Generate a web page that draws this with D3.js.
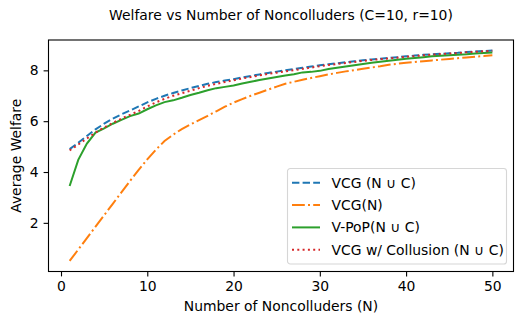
<!DOCTYPE html>
<html>
<head>
<meta charset="utf-8">
<script src="https://cdn.jsdelivr.net/npm/d3@7"></script>
<style>
  body { margin: 0; background: #fff; }
  svg text { font-family: "DejaVu Sans", sans-serif; fill: #000; }
</style>
</head>
<body>
<svg id="chart"></svg>
<script>
var width = 523;
var height = 324;

// data, N = 1..50
var nValues = d3.range(1, 51);
var vcgAll = [4.90, 5.15, 5.42, 5.68, 5.90, 6.10, 6.27, 6.42, 6.58, 6.74,
              6.88, 7.00, 7.11, 7.21, 7.30, 7.39, 7.47, 7.54, 7.60, 7.65,
              7.72, 7.78, 7.84, 7.90, 7.95, 8.00, 8.05, 8.10, 8.15, 8.20,
              8.24, 8.28, 8.32, 8.36, 8.40, 8.43, 8.46, 8.49, 8.52, 8.55,
              8.58, 8.61, 8.63, 8.65, 8.67, 8.69, 8.72, 8.74, 8.76, 8.78];
var vcgN = [0.50, 0.95, 1.40, 1.85, 2.30, 2.75, 3.20, 3.65, 4.08, 4.50,
            4.88, 5.22, 5.47, 5.69, 5.87, 6.04, 6.21, 6.39, 6.57, 6.73,
            6.87, 7.00, 7.12, 7.24, 7.36, 7.47, 7.55, 7.63, 7.70, 7.77,
            7.84, 7.90, 7.96, 8.01, 8.06, 8.11, 8.16, 8.22, 8.26, 8.30,
            8.33, 8.36, 8.39, 8.42, 8.45, 8.48, 8.51, 8.54, 8.56, 8.59];
var vpop = [3.45, 4.48, 5.12, 5.55, 5.72, 5.90, 6.05, 6.20, 6.30, 6.47,
            6.62, 6.75, 6.82, 6.92, 7.03, 7.12, 7.22, 7.30, 7.35, 7.40,
            7.48, 7.55, 7.62, 7.68, 7.74, 7.80, 7.85, 7.92, 7.94, 7.98,
            8.05, 8.10, 8.15, 8.20, 8.25, 8.30, 8.34, 8.38, 8.42, 8.46,
            8.49, 8.52, 8.55, 8.57, 8.59, 8.61, 8.63, 8.66, 8.68, 8.70];
var vcgCollusion = [4.85, 5.08, 5.32, 5.55, 5.75, 5.93, 6.10, 6.25, 6.40, 6.58,
                    6.74, 6.88, 7.00, 7.10, 7.20, 7.30, 7.39, 7.47, 7.54, 7.61,
                    7.68, 7.74, 7.80, 7.86, 7.91, 7.96, 8.01, 8.06, 8.11, 8.16,
                    8.21, 8.25, 8.29, 8.33, 8.37, 8.41, 8.44, 8.47, 8.50, 8.53,
                    8.56, 8.59, 8.62, 8.64, 8.66, 8.68, 8.71, 8.73, 8.75, 8.77];

var seriesNames = ["VCG (N \u222A C)", "VCG(N)", "V-PoP(N \u222A C)", "VCG w/ Collusion (N \u222A C)"];
var seriesValues = [vcgAll, vcgN, vpop, vcgCollusion];
var seriesColors = ["#1f77b4", "#ff7f0e", "#2ca02c", "#d62728"];
var lw = 2;
var seriesDash = [
  [3.7 * lw, 1.6 * lw].join(","),
  [6.4 * lw, 1.6 * lw, 1 * lw, 1.6 * lw].join(","),
  null,
  [1 * lw, 1.65 * lw].join(",")
];
var xTicks = [0, 10, 20, 30, 40, 50];
var yTicks = [2, 4, 6, 8];

var fontSize = 13.9;
var margin = { left: 48.5, right: 9.5, top: 40, bottom: 52.5 };

var svg = d3.select("#chart")
  .attr("width", width)
  .attr("height", height);

// matplotlib-like 5% margins
var xMin = 1, xMax = 50;
var allVals = d3.merge(seriesValues);
var yMin = d3.min(allVals), yMax = d3.max(allVals);
var xPad = (xMax - xMin) * 0.05, yPad = (yMax - yMin) * 0.05;

var x = d3.scaleLinear()
  .domain([xMin - xPad, xMax + xPad])
  .range([margin.left, width - margin.right]);
var y = d3.scaleLinear()
  .domain([yMin - yPad, yMax + yPad])
  .range([height - margin.bottom, margin.top]);

var plot = svg.append("g");

var line = d3.line()
  .x(function (d, i) { return x(nValues[i]); })
  .y(function (d) { return y(d); });

seriesValues.forEach(function (vals, k) {
  plot.append("path")
    .datum(vals)
    .attr("d", line)
    .attr("fill", "none")
    .attr("stroke", seriesColors[k])
    .attr("stroke-width", lw)
    .attr("stroke-dasharray", seriesDash[k]);
});

// axes
var xAxis = d3.axisBottom(x).tickValues(xTicks).tickSize(4.9).tickPadding(4.9);
var yAxis = d3.axisLeft(y).tickValues(yTicks).tickSize(4.9).tickPadding(4.9);

var gx = svg.append("g")
  .attr("transform", "translate(0," + (height - margin.bottom) + ")")
  .call(xAxis);
var gy = svg.append("g")
  .attr("transform", "translate(" + margin.left + ",0)")
  .call(yAxis);
[gx, gy].forEach(function (g) {
  g.select(".domain").remove();
  g.selectAll("text").attr("font-size", fontSize).attr("font-family", "DejaVu Sans").attr("fill", "#000");
  g.selectAll("line").attr("stroke", "#000").attr("stroke-width", 1.1);
});

// frame
svg.append("rect")
  .attr("x", margin.left)
  .attr("y", margin.top)
  .attr("width", width - margin.left - margin.right)
  .attr("height", height - margin.top - margin.bottom)
  .attr("fill", "none")
  .attr("stroke", "#000")
  .attr("stroke-width", 1.1);

// title and labels
svg.append("text")
  .attr("x", (margin.left + width - margin.right) / 2)
  .attr("y", 19.5)
  .attr("text-anchor", "middle")
  .attr("font-size", fontSize)
  .text("Welfare vs Number of Noncolluders (C=10, r=10)");

svg.append("text")
  .attr("x", (margin.left + width - margin.right) / 2)
  .attr("y", 310.5)
  .attr("text-anchor", "middle")
  .attr("font-size", fontSize)
  .text("Number of Noncolluders (N)");

svg.append("text")
  .attr("transform", "translate(20.5," + ((margin.top + height - margin.bottom) / 2) + ") rotate(-90)")
  .attr("text-anchor", "middle")
  .attr("font-size", fontSize)
  .text("Average Welfare");

// legend
var legend = svg.append("g").attr("transform", "translate(287.5,168.5)");
legend.append("rect")
  .attr("width", 219)
  .attr("height", 95.5)
  .attr("rx", 2.8)
  .attr("fill", "#fff")
  .attr("fill-opacity", 0.8)
  .attr("stroke", "#d6d6d6")
  .attr("stroke-width", 1.1);

seriesNames.forEach(function (name, k) {
  var gy0 = 14.3 + k * 22.3;
  legend.append("line")
    .attr("x1", 4.5).attr("x2", 32.5)
    .attr("y1", gy0).attr("y2", gy0)
    .attr("stroke", seriesColors[k])
    .attr("stroke-width", lw)
    .attr("stroke-dasharray", seriesDash[k]);
  legend.append("text")
    .attr("x", 44)
    .attr("y", gy0 + 5)
    .attr("font-size", fontSize)
    .text(name);
});
</script>
</body>
</html>
